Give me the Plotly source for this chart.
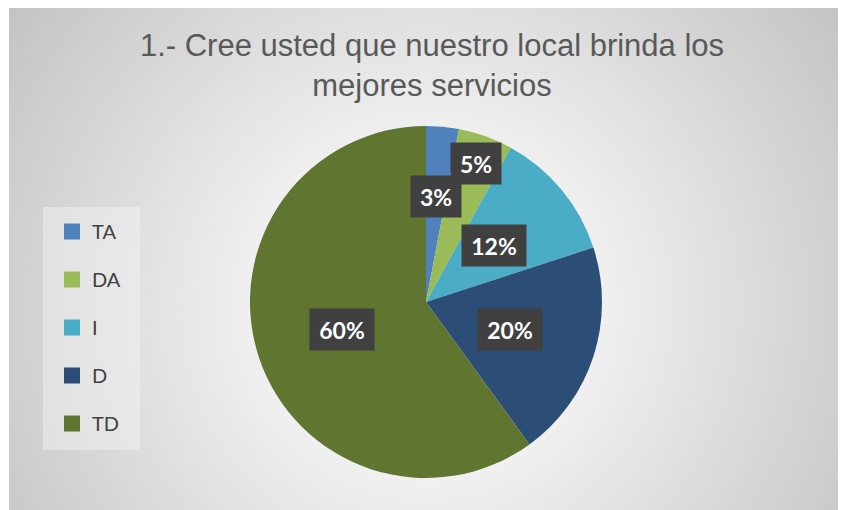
import base64, math
import plotly.graph_objects as go

# ---- data ----
labels = ["TA", "DA", "I", "D", "TD"]
values = [3, 5, 12, 20, 60]
colors = ["#4f81bd", "#9bbb59", "#4bacc6", "#2c4d75", "#5f7530"]
label_radius = [0.6, 0.835, 0.5, 0.5, 0.5]
title_text = "1.- Cree usted que nuestro local brinda los<br>mejores servicios"

W, H = 846, 510
OFF = 8  # page body margin offset in the screenshot


def X(sx):
    return (sx - OFF) / W


def Y(sy):
    return 1 - (sy - OFF) / H


# pie geometry in screen pixels
PCX, PCY, PR = 426, 302, 176

fig = go.Figure()

fig.add_trace(go.Pie(
    labels=labels, values=values, sort=False, direction="clockwise", rotation=0,
    marker=dict(colors=colors, line=dict(width=0)),
    textinfo="none", hoverinfo="label+percent", showlegend=False,
    domain=dict(x=[X(PCX - PR), X(PCX + PR)], y=[Y(PCY + PR), Y(PCY - PR)]),
))

# legend entries via dummy traces (for spacing control)
for lab, col in zip(labels, colors):
    fig.add_trace(go.Scatter(x=[None], y=[None], mode="markers", name=lab, legendgroup=lab,
                             marker=dict(symbol="square", size=16, color=col)))

# data labels placed from cumulative fraction
total = sum(values)
cum = 0
for v, rf in zip(values, label_radius):
    mid = (cum + v / 2) / total
    cum += v
    ang = 2 * math.pi * mid
    sx = PCX + rf * PR * math.sin(ang)
    sy = PCY - rf * PR * math.cos(ang)
    txt = f"{round(100 * v / total)}%"
    fig.add_annotation(x=X(sx), y=Y(sy), xref="paper", yref="paper",
                       xanchor="center", yanchor="middle",
                       text=f"<b>{txt}</b>", showarrow=False,
                       font=dict(family="Lato", size=23, color="white"),
                       bgcolor="#404040", borderpad=6, width=14 * len(txt) + 10, height=29)

svg = '''<svg xmlns="http://www.w3.org/2000/svg" width="837" height="504" viewBox="0 0 837 504">
<defs><radialGradient id="g" gradientUnits="userSpaceOnUse" cx="417" cy="300" r="520">
<stop offset="0" stop-color="#f6f6f6"/><stop offset="0.33" stop-color="#f0f0f0"/>
<stop offset="1" stop-color="#c2c2c2"/></radialGradient></defs>
<rect x="0" y="0" width="837" height="504" fill="url(#g)"/></svg>'''
src = "data:image/svg+xml;base64," + base64.b64encode(svg.encode()).decode()

fig.update_layout(
    width=W, height=H, margin=dict(l=0, r=0, t=0, b=0),
    paper_bgcolor="white", plot_bgcolor="rgba(0,0,0,0)",
    xaxis=dict(visible=False), yaxis=dict(visible=False),
    images=[dict(source=src, xref="paper", yref="paper", x=X(9), y=Y(6),
                 sizex=837 / W, sizey=504 / H, xanchor="left", yanchor="top",
                 sizing="stretch", layer="below")],
    shapes=[dict(type="rect", xref="paper", yref="paper",
                 x0=X(43), x1=X(140), y0=Y(450), y1=Y(207),
                 fillcolor="rgba(245,245,245,0.45)", line=dict(width=0), layer="below")],
    title=dict(text=title_text, x=X(432), xanchor="center", y=Y(56), yanchor="top",
               font=dict(family="Liberation Sans", size=31, color="#595959")),
    legend=dict(x=X(52), y=Y(212), xanchor="left", yanchor="top",
                bgcolor="rgba(0,0,0,0)", font=dict(family="Lato", size=20, color="#404040"),
                traceorder="grouped", tracegroupgap=19, itemsizing="trace"),
    showlegend=True,
)

fig.write_html("out.html")
